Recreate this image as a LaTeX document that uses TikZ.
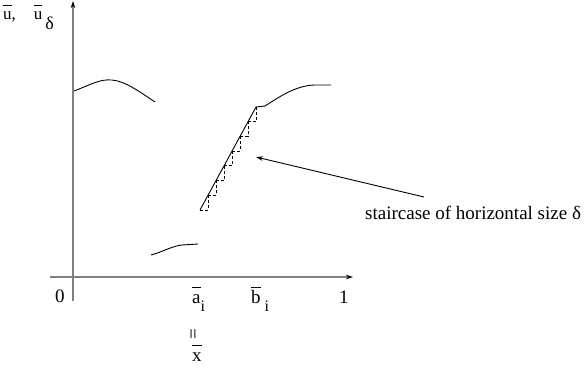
\documentclass[tikz,border=0pt]{standalone}
\usepackage{fontspec}
\setmainfont{Liberation Serif}
\usetikzlibrary{arrows.meta}
\newcommand{\barred}[1]{\vbox{\hrule height 0.9pt\kern 1.5pt\hbox{#1\vphantom{b}}}}
\newcommand{\lowsub}[2]{\raisebox{-#1}{\fontsize{16}{18}\selectfont #2}}
\tikzset{
  axis/.style={draw=gray,line width=1.5pt,-{Stealth[length=7pt,width=4.5pt,color=black]}},
  graph/.style={line width=0.9pt},
  stair/.style={line width=0.8pt,dash pattern=on 3pt off 2pt},
  lbl/.style={inner sep=0pt,anchor=base west,font=\fontsize{19}{22}\selectfont},
}
\begin{document}
\begin{tikzpicture}[x=1pt,y=-1pt]
	\useasboundingbox (0,0) rectangle (585,368);
	% axes
	\coordinate (xs) at (50,277);
	\coordinate (xe) at (353,277);
	\coordinate (ys) at (73,301);
	\coordinate (ye) at (73,1);
	\draw[axis] (xs) -- (xe);
	\draw[axis] (ys) -- (ye);
	% graph of u
	\draw[graph] (74,91) .. controls (92,84) and (100,79) .. (112,80) .. controls (125,81) and (140,92) .. (155,102);
	\draw[graph] (151,255) .. controls (165,251) and (172,246) .. (182,245) -- (198,244);
	\draw[graph] (200,210) -- (256,107) -- (265,106) .. controls (282,95) and (296,86) .. (314,85) -- (331,85);
	% staircase
	\foreach \k in {0,...,6}{
		\draw[stair] ({200+8*\k},{210-14.714*\k}) -- ++(8,0) -- ++(0,-14.714);
	}
	% labels
	\node[lbl,font=\fontsize{17}{19}\selectfont] (ulab) at (3,19) {\barred{u},\hspace{18pt}\barred{u}\hspace{3pt}\lowsub{10pt}{\fontsize{18}{20}\selectfont δ}};
	\node[lbl] (zero) at (55,302) {0};
	\node[lbl] (ai) at (192,303) {\barred{a}\lowsub{8pt}{i}};
	\node[lbl] (bi) at (251,303) {\barred{b}\hspace{4pt}\lowsub{8pt}{i}};
	\node[lbl] (one) at (339,303) {1};
	\node[inner sep=0pt,rotate=90,font=\fontsize{19}{22}\selectfont] (eq) at (195,334) {=};
	\node[lbl] (xbar) at (192,361) {\barred{x}};
	\node[lbl] (note) at (365,219) {staircase of horizontal size δ};
	% arrow to the staircase
	\coordinate (tail) at (424,197);
	\coordinate (tip) at (256,157);
	\draw[graph,-{Stealth[length=7pt,width=4.5pt]}] (tail) -- (tip);
\end{tikzpicture}
\end{document}
